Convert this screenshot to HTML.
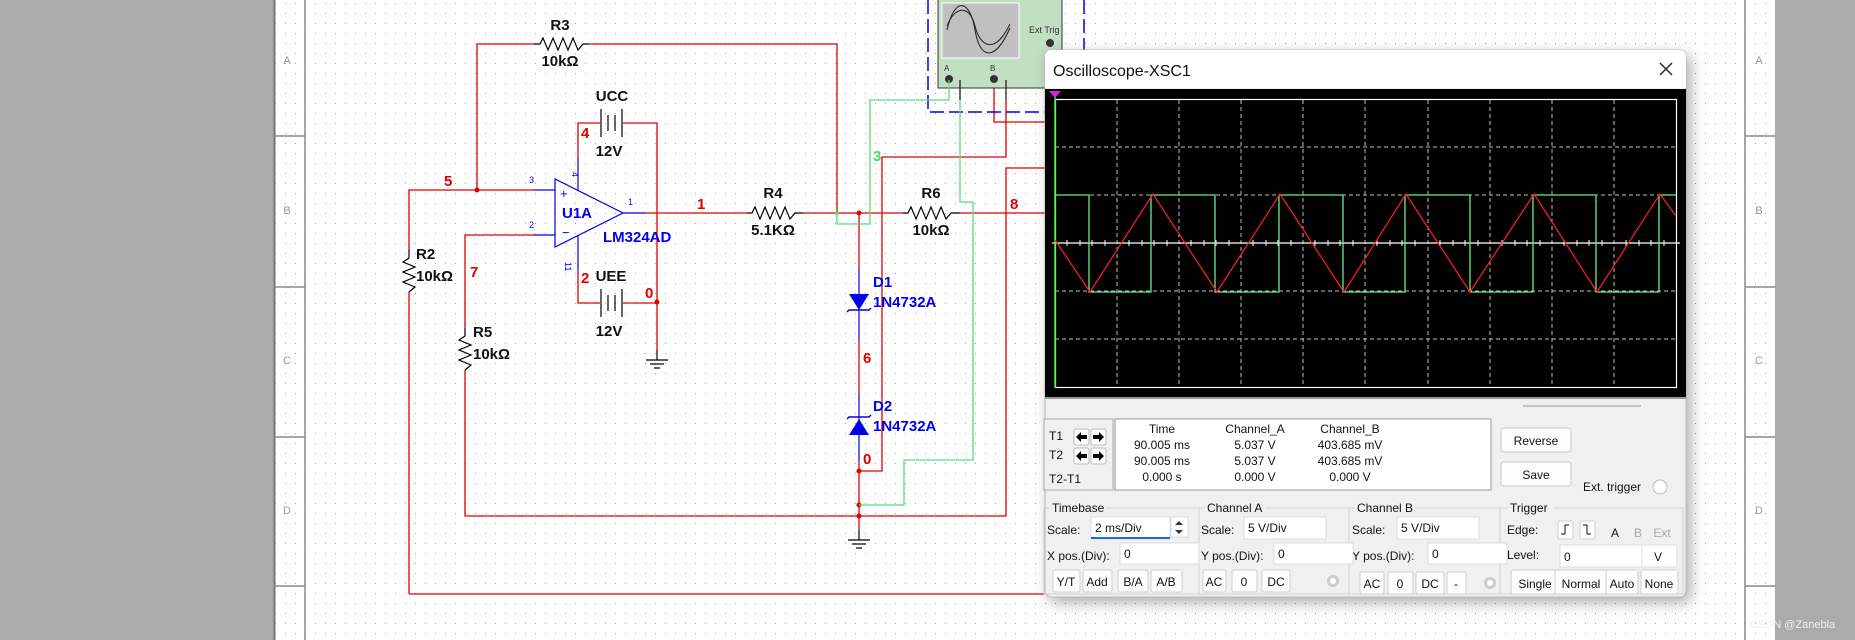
<!DOCTYPE html>
<html><head><meta charset="utf-8"><style>
html,body{margin:0;padding:0;background:#fff}
svg{display:block}
text{font-family:"Liberation Sans",Arial,sans-serif}
</style></head><body>
<svg width="1855" height="640" viewBox="0 0 1855 640" xmlns="http://www.w3.org/2000/svg">
<defs>
<pattern id="dots" x="5" y="3" width="10" height="10" patternUnits="userSpaceOnUse"><rect x="0" y="0" width="1" height="1" fill="#9a9a9a"/></pattern>
<filter id="sh" x="-5%" y="-5%" width="115%" height="115%"><feGaussianBlur stdDeviation="8"/></filter>
</defs>
<rect width="1855" height="640" fill="#fff"/>
<rect x="274" y="0" width="1501" height="640" fill="url(#dots)"/>
<rect x="0" y="0" width="274" height="640" fill="#ababab"/>
<rect x="1775" y="0" width="80" height="640" fill="#ababab"/>
<line x1="274.5" y1="0" x2="274.5" y2="640" stroke="#777" stroke-width="2"/>
<g stroke="#8a8a8a" stroke-width="1.5">
<line x1="305" y1="0" x2="305" y2="640"/>
<line x1="1745" y1="0" x2="1745" y2="640"/>
<line x1="274" y1="136" x2="305" y2="136"/><line x1="274" y1="287" x2="305" y2="287"/><line x1="274" y1="437" x2="305" y2="437"/><line x1="274" y1="586" x2="305" y2="586"/>
<line x1="1745" y1="136" x2="1775" y2="136"/><line x1="1745" y1="287" x2="1775" y2="287"/><line x1="1745" y1="437" x2="1775" y2="437"/><line x1="1745" y1="586" x2="1775" y2="586"/>
</g>
<g fill="#999" font-size="11" text-anchor="middle">
<text x="287" y="64">A</text><text x="287" y="214">B</text><text x="287" y="364">C</text><text x="287" y="514">D</text>
<text x="1759" y="64">A</text><text x="1759" y="214">B</text><text x="1759" y="364">C</text><text x="1759" y="514">D</text>
</g>

<g stroke="#e00000" stroke-width="1.3" fill="none">
<polyline points="534,44 477,44 477,190"/>
<polyline points="589,44 837,44 837,213"/>
<polyline points="533,190 409,190 409,250"/>
<line x1="409" y1="292" x2="409" y2="594"/>
<line x1="409" y1="594" x2="1045" y2="594"/>
<polyline points="533,235 465,235 465,328"/>
<polyline points="465,370 465,516 1006,516 1006,168 1045,168"/>
<polyline points="578,158 578,123 600,123"/>
<polyline points="623,123 657,123 657,350"/>
<polyline points="578,270 578,303 600,303"/>
<line x1="623" y1="303" x2="657" y2="303"/>
<line x1="645" y1="213" x2="747" y2="213"/>
<line x1="803" y1="213" x2="903" y2="213"/>
<line x1="960" y1="213" x2="1045" y2="213"/>
<line x1="859" y1="213" x2="859" y2="269"/>
<line x1="859" y1="339" x2="859" y2="394"/>
<line x1="859" y1="461" x2="859" y2="530"/>
<polyline points="859,471 882,471 882,157 1006,157 1006,100"/>
<polyline points="994,80 994,122 1045,122"/>
</g>
<g stroke="#000" stroke-width="1.2" fill="none">
<polyline points="534,44 540,44 543,38 548,50 553,38 558,50 563,38 568,50 573,38 578,50 583,44 589,44"/>
<polyline points="747,213 752,213 755,207 760,219 765,207 770,219 775,207 780,219 785,207 790,219 795,213 803,213"/>
<polyline points="903,213 908,213 911,207 916,219 921,207 926,219 931,207 936,219 941,207 946,219 951,213 960,213"/>
<polyline points="409,250 409,258 403,262 415,267 403,272 415,277 403,282 415,287 409,292"/>
<polyline points="465,328 465,336 459,340 471,345 459,350 471,355 459,360 471,365 465,370"/>
<line x1="601" y1="109" x2="601" y2="137"/><line x1="608" y1="115" x2="608" y2="131"/><line x1="615" y1="115" x2="615" y2="131"/><line x1="622" y1="109" x2="622" y2="137"/>
<line x1="601" y1="289" x2="601" y2="317"/><line x1="608" y1="295" x2="608" y2="311"/><line x1="615" y1="295" x2="615" y2="311"/><line x1="622" y1="289" x2="622" y2="317"/>
<line x1="657" y1="350" x2="657" y2="360"/><line x1="646" y1="360" x2="668" y2="360"/><line x1="650" y1="364" x2="664" y2="364"/><line x1="654" y1="368" x2="660" y2="368"/>
<line x1="859" y1="530" x2="859" y2="540"/><line x1="848" y1="540" x2="870" y2="540"/><line x1="852" y1="544" x2="866" y2="544"/><line x1="856" y1="548" x2="862" y2="548"/>
</g>
<g stroke="#0000ee" stroke-width="1.2" fill="none">
<polygon points="555,179 555,247 623,213"/>
<line x1="533" y1="190" x2="555" y2="190"/><line x1="533" y1="235" x2="555" y2="235"/>
<line x1="623" y1="213" x2="645" y2="213"/>
<line x1="578" y1="158" x2="578" y2="191"/><line x1="578" y1="235" x2="578" y2="270"/>
<line x1="859" y1="269" x2="859" y2="339"/><line x1="859" y1="394" x2="859" y2="461"/>
</g>
<g fill="#0000ee">
<polygon points="849,294 869,294 859,310"/><polyline points="847,312 849,310 869,310 871,308" stroke="#0000ee" fill="none" stroke-width="1.5"/>
<polygon points="849,435 869,435 859,419"/><polyline points="847,419 849,417 869,417 871,415" stroke="#0000ee" fill="none" stroke-width="1.5"/>
</g>
<g fill="#0000ee" font-size="9"><text x="529" y="183">3</text><text x="529" y="228">2</text><text x="628" y="205">1</text><text x="572" y="172" transform="rotate(90 572 172)">4</text><text x="565" y="262" transform="rotate(90 565 262)">11</text></g>
<text x="560" y="198" fill="#0000ee" font-size="13">+</text><text x="562" y="237" fill="#0000ee" font-size="13">−</text>
<g fill="#0000ee" font-size="15" font-weight="bold">
<text x="562" y="218">U1A</text><text x="603" y="242">LM324AD</text>
<text x="873" y="287">D1</text><text x="873" y="307">1N4732A</text>
<text x="873" y="411">D2</text><text x="873" y="431">1N4732A</text>
</g>
<g fill="#111" font-size="15" font-weight="bold" text-anchor="middle">
<text x="560" y="30">R3</text><text x="560" y="66">10kΩ</text>
<text x="612" y="101">UCC</text><text x="609" y="156">12V</text>
<text x="611" y="281">UEE</text><text x="609" y="336">12V</text>
<text x="773" y="198">R4</text><text x="773" y="235">5.1KΩ</text>
<text x="931" y="198">R6</text><text x="931" y="235">10kΩ</text>
</g>
<g fill="#111" font-size="15" font-weight="bold">
<text x="416" y="259">R2</text><text x="416" y="281">10kΩ</text>
<text x="473" y="337">R5</text><text x="473" y="359">10kΩ</text>
</g>
<g fill="#e00000" font-size="15" font-weight="bold">
<text x="444" y="186">5</text><text x="697" y="209">1</text><text x="581" y="138">4</text><text x="581" y="283">2</text>
<text x="645" y="298">0</text><text x="470" y="277">7</text><text x="863" y="363">6</text><text x="863" y="464">0</text><text x="1010" y="209">8</text>
</g>
<text x="873" y="161" fill="#44dd66" font-size="15" font-weight="bold">3</text>
<g fill="#e00000"><circle cx="477" cy="190" r="2.5"/><circle cx="657" cy="302" r="2.5"/><circle cx="859" cy="213" r="2.5"/><circle cx="859" cy="471" r="2.5"/><circle cx="859" cy="505" r="2.5"/><circle cx="859" cy="516" r="2.5"/></g>
<circle cx="837" cy="213" r="2" fill="#44dd66"/>

<g stroke="#0000ee" stroke-width="1.5" stroke-dasharray="14,5" fill="none">
<polyline points="928,0 928,112 1045,112"/>
<line x1="1084" y1="0" x2="1084" y2="51"/>
</g>
<rect x="938" y="-2" width="124" height="90" fill="#c3dfc3" stroke="#333"/>
<rect x="942" y="3" width="77" height="55" fill="#c0c0c0" stroke="#fff"/>
<path d="M947,30 C955,-5 970,0 975,30 S995,62 1010,28" stroke="#222" fill="none"/>
<path d="M947,26 C955,5 970,5 975,26 S995,55 1010,24" stroke="#222" fill="none"/>
<text x="1029" y="33" font-size="9" fill="#333">Ext Trig</text>
<circle cx="1050" cy="43" r="4" fill="#333"/><circle cx="949" cy="79" r="4" fill="#333"/><circle cx="994" cy="79" r="4" fill="#333"/>
<text x="944" y="71" font-size="8" fill="#333">A</text><text x="990" y="71" font-size="8" fill="#333">B</text>
<g stroke="#55dd77" stroke-width="1.3" fill="none">
<polyline points="949,80 949,100 870,100 870,224 837,224 837,213"/>
<polyline points="960,80 960,202 973,202 973,460 904,460 904,505 859,505"/>
</g>
<line x1="960" y1="80" x2="960" y2="100" stroke="#222" stroke-width="1.3"/>
<line x1="1006" y1="80" x2="1006" y2="100" stroke="#222" stroke-width="1.3"/>

<rect x="1050" y="56" width="640" height="546" fill="#000" opacity="0.35" filter="url(#sh)"/>
<rect x="1045" y="50" width="641" height="547" rx="6" fill="#f0f0f0" stroke="#b8b8b8"/>
<path d="M1045,56 a6,6 0 0 1 6,-6 h629 a6,6 0 0 1 6,6 v32 h-641z" fill="#fff"/>
<text x="1053" y="76" font-size="16" fill="#111">Oscilloscope-XSC1</text>
<path d="M1660,63 l12,12 M1672,63 l-12,12" stroke="#222" stroke-width="1.4"/>
<rect x="1045" y="89" width="641" height="309" fill="#000"/>
<rect x="1045" y="397" width="641" height="2" fill="#999"/>
<g stroke="#bbb" stroke-width="1" stroke-dasharray="4,3">
<line x1="1117" y1="100" x2="1117" y2="387"/><line x1="1179" y1="100" x2="1179" y2="387"/><line x1="1241" y1="100" x2="1241" y2="387"/><line x1="1303" y1="100" x2="1303" y2="387"/><line x1="1428" y1="100" x2="1428" y2="387"/><line x1="1490" y1="100" x2="1490" y2="387"/><line x1="1552" y1="100" x2="1552" y2="387"/><line x1="1614" y1="100" x2="1614" y2="387"/>
<line x1="1365" y1="100" x2="1365" y2="387"/>
<line x1="1055" y1="147" x2="1676" y2="147"/><line x1="1055" y1="195" x2="1676" y2="195"/><line x1="1055" y1="291" x2="1676" y2="291"/><line x1="1055" y1="339" x2="1676" y2="339"/>
</g>
<rect x="1055.5" y="99.5" width="621" height="288" fill="none" stroke="#fff" stroke-width="1.2"/>
<line x1="1052" y1="243" x2="1680" y2="243" stroke="#fff" stroke-width="1.3"/>
<g stroke="#fff" stroke-width="1">
<path d="M1067,240v6M1080,240v6M1092,240v6M1105,240v6M1129,240v6M1142,240v6M1154,240v6M1167,240v6M1191,240v6M1204,240v6M1216,240v6M1229,240v6M1253,240v6M1266,240v6M1278,240v6M1291,240v6M1315,240v6M1328,240v6M1340,240v6M1353,240v6M1377,240v6M1390,240v6M1402,240v6M1415,240v6M1440,240v6M1453,240v6M1465,240v6M1478,240v6M1502,240v6M1515,240v6M1527,240v6M1540,240v6M1564,240v6M1577,240v6M1589,240v6M1602,240v6M1626,240v6M1639,240v6M1651,240v6M1664,240v6"/>
</g>
<line x1="1055" y1="92" x2="1055" y2="388" stroke="#33ee33" stroke-width="1.5"/>
<polygon points="1049,91 1061,91 1055,98" fill="#e020e0"/>
<polyline fill="none" stroke="#66ee88" stroke-width="1.3" points="1055,195 1089,195 1089,292 1151,292 1151,195 1215,195 1215,292 1279,292 1279,195 1343,195 1343,292 1405,292 1405,195 1470,195 1470,292 1533,292 1533,195 1596,195 1596,292 1659,292 1659,195 1676,195"/>
<polyline fill="none" stroke="#ff2020" stroke-width="1.2" points="1055,240 1090,292 1153,194 1217,292 1280,194 1344,292 1406,194 1470,292 1534,194 1597,292 1660,194 1676,216"/>

<line x1="1523" y1="406" x2="1641" y2="406" stroke="#999"/>
<rect x="1044" y="419" width="69" height="71" fill="#f0f0f0" stroke="#aaa"/>
<rect x="1115" y="419" width="376" height="71" fill="#fff" stroke="#999"/>
<g font-size="12" fill="#111">
<text x="1049" y="440">T1</text><text x="1049" y="459">T2</text><text x="1049" y="483">T2-T1</text>
</g>
<g fill="#fff" stroke="#bbb"><rect x="1074" y="429" width="15" height="16" rx="2"/><rect x="1091" y="429" width="15" height="16" rx="2"/><rect x="1074" y="448" width="15" height="16" rx="2"/><rect x="1091" y="448" width="15" height="16" rx="2"/></g>
<g fill="#000">
<polygon points="1076,437 1081,432 1081,435 1087,435 1087,439 1081,439 1081,442"/>
<polygon points="1104,437 1099,432 1099,435 1093,435 1093,439 1099,439 1099,442"/>
<polygon points="1076,456 1081,451 1081,454 1087,454 1087,458 1081,458 1081,461"/>
<polygon points="1104,456 1099,451 1099,454 1093,454 1093,458 1099,458 1099,461"/>
</g>
<g font-size="12" fill="#111" text-anchor="middle">
<text x="1162" y="433">Time</text><text x="1255" y="433">Channel_A</text><text x="1350" y="433">Channel_B</text>
<text x="1162" y="449">90.005 ms</text><text x="1255" y="449">5.037 V</text><text x="1350" y="449">403.685 mV</text>
<text x="1162" y="465">90.005 ms</text><text x="1255" y="465">5.037 V</text><text x="1350" y="465">403.685 mV</text>
<text x="1162" y="481">0.000 s</text><text x="1255" y="481">0.000 V</text><text x="1350" y="481">0.000 V</text>
</g>
<g fill="#fdfdfd" stroke="#ccc"><rect x="1501" y="428" width="70" height="24" rx="3"/><rect x="1501" y="462" width="70" height="24" rx="3"/></g>
<g font-size="12" fill="#111"><text x="1536" y="445" text-anchor="middle">Reverse</text><text x="1536" y="479" text-anchor="middle">Save</text><text x="1583" y="491">Ext. trigger</text></g>
<circle cx="1660" cy="487" r="7" fill="#fff" stroke="#bbb"/>
<g fill="none" stroke="#d0d0d0">
<rect x="1044" y="508" width="155" height="86"/><rect x="1199" y="508" width="150" height="86"/><rect x="1349" y="508" width="151" height="86"/><rect x="1500" y="508" width="183" height="86"/>
</g>
<g font-size="12" fill="#111">
<rect x="1050" y="501" width="56" height="12" fill="#f0f0f0"/><text x="1052" y="512">Timebase</text>
<rect x="1205" y="501" width="60" height="12" fill="#f0f0f0"/><text x="1207" y="512">Channel A</text>
<rect x="1355" y="501" width="60" height="12" fill="#f0f0f0"/><text x="1357" y="512">Channel B</text>
<rect x="1508" y="501" width="45" height="12" fill="#f0f0f0"/><text x="1510" y="512">Trigger</text>
<text x="1047" y="534">Scale:</text><text x="1047" y="560">X pos.(Div):</text>
<text x="1201" y="534">Scale:</text><text x="1201" y="560">Y pos.(Div):</text>
<text x="1352" y="534">Scale:</text><text x="1352" y="560">Y pos.(Div):</text>
<text x="1507" y="534">Edge:</text><text x="1507" y="559">Level:</text>
</g>
<g fill="#fff" stroke="#ddd">
<rect x="1091" y="517" width="79" height="22"/><rect x="1120" y="543" width="79" height="21"/>
<rect x="1244" y="517" width="82" height="22"/><rect x="1274" y="543" width="79" height="21"/>
<rect x="1397" y="517" width="82" height="22"/><rect x="1428" y="543" width="79" height="21"/>
<rect x="1560" y="545" width="82" height="22"/><rect x="1642" y="545" width="35" height="22"/>
<rect x="1171" y="517" width="17" height="20"/>
</g>
<line x1="1091" y1="538" x2="1170" y2="538" stroke="#1a6fd0" stroke-width="2"/>
<g font-size="12" fill="#111">
<text x="1095" y="532">2 ms/Div</text><text x="1124" y="558">0</text>
<text x="1248" y="532">5  V/Div</text><text x="1278" y="558">0</text>
<text x="1401" y="532">5  V/Div</text><text x="1432" y="558">0</text>
<text x="1564" y="561">0</text><text x="1654" y="561">V</text>
</g>
<path d="M1175,525 l4,-4 l4,4z M1175,530 l4,4 l4,-4z" fill="#333"/>
<g fill="#fdfdfd" stroke="#d0d0d0">
<rect x="1053" y="570" width="27" height="22" rx="2"/><rect x="1083" y="570" width="29" height="22" rx="2"/><rect x="1118" y="570" width="30" height="22" rx="2"/><rect x="1151" y="570" width="31" height="22" rx="2"/>
<rect x="1203" y="570" width="23" height="22" rx="2"/><rect x="1232" y="570" width="25" height="22" rx="2"/><rect x="1262" y="570" width="28" height="22" rx="2"/>
<rect x="1360" y="572" width="24" height="22" rx="2"/><rect x="1388" y="572" width="25" height="22" rx="2"/><rect x="1416" y="572" width="28" height="22" rx="2"/><rect x="1447" y="572" width="19" height="22" rx="2"/>
<rect x="1511" y="570" width="49" height="24" rx="2"/><rect x="1555" y="570" width="52" height="24" rx="2"/><rect x="1606" y="570" width="32" height="24" rx="2"/><rect x="1641" y="570" width="37" height="24" rx="2"/>
<rect x="1558" y="521" width="15" height="18" rx="2"/><rect x="1580" y="521" width="15" height="18" rx="2"/>
</g>
<path d="M1561,534 h4 v-9 h4" stroke="#111" fill="none"/><path d="M1583,525 h4 v9 h4" stroke="#111" fill="none"/>
<g font-size="12" fill="#111" text-anchor="middle">
<text x="1066" y="586">Y/T</text><text x="1097" y="586">Add</text><text x="1133" y="586">B/A</text><text x="1166" y="586">A/B</text>
<text x="1214" y="586">AC</text><text x="1244" y="586">0</text><text x="1276" y="586">DC</text>
<text x="1372" y="588">AC</text><text x="1400" y="588">0</text><text x="1430" y="588">DC</text><text x="1456" y="588">-</text>
<text x="1535" y="588">Single</text><text x="1581" y="588">Normal</text><text x="1622" y="588">Auto</text><text x="1659" y="588">None</text>
<text x="1615" y="537">A</text><text x="1638" y="537" fill="#aaa">B</text><text x="1662" y="537" fill="#aaa">Ext</text>
</g>
<circle cx="1333" cy="581" r="6" fill="#ccc"/><circle cx="1333" cy="581" r="3" fill="#fff"/>
<circle cx="1490" cy="583" r="6" fill="#ccc"/><circle cx="1490" cy="583" r="3" fill="#fff"/>
<text x="1750" y="628" font-size="11" fill="#eee">CSDN @Zanebla</text>
</svg>
</body></html>
